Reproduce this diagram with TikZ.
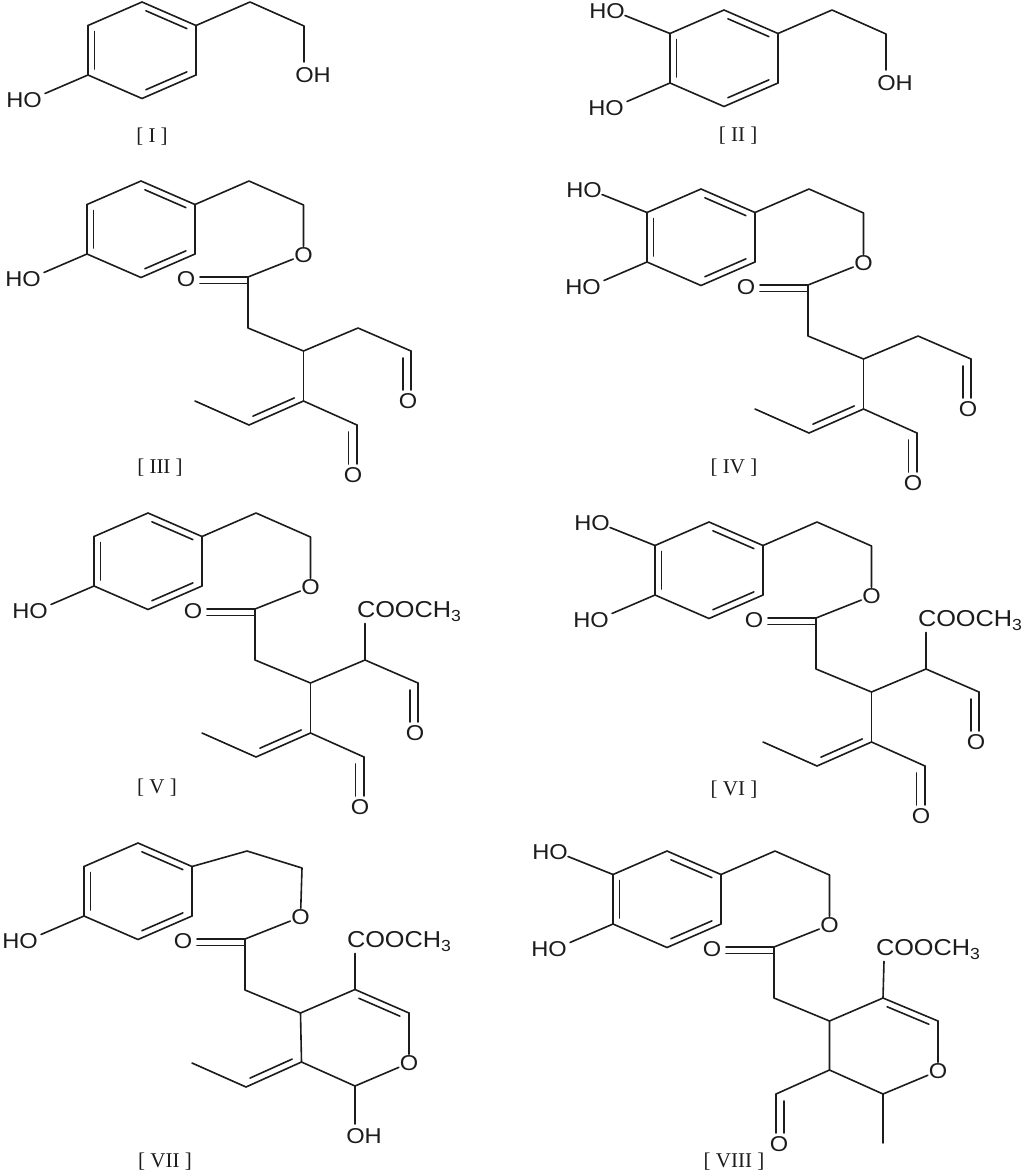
\documentclass[tikz,border=0pt]{standalone}
\usepackage{fontspec}
\usetikzlibrary{calc}
\setmainfont{Liberation Serif}
\newfontfamily\chemfont[FakeStretch=1.1]{Liberation Sans}
\definecolor{ink}{HTML}{1C1C1C}
\tikzset{
  bond/.style={draw=ink,line width=1.6pt,line cap=round,line join=round},
  atom/.style={text=ink,font=\chemfont\fontsize{21.5}{24}\selectfont,inner sep=0.8pt},
  caption/.style={text=ink,font=\fontsize{21}{24}\selectfont,inner sep=0pt},
}
% double bond: the second line lies to the right of the direction a -> b
\newcommand{\dblr}[2]{%
  \draw[bond] (#1)--(#2);
  \draw[bond] ($(#1)!.12!(#2)!6.5pt!-90:(#2)$)--($(#2)!.12!(#1)!6.5pt!90:(#1)$);}
\newcommand{\phenylring}{%
  \coordinate (r1) at (0,0);
  \coordinate (r2) at (54,23.5);
  \coordinate (r3) at (54,73);
  \coordinate (r4) at (0,96.5);
  \coordinate (r5) at (-54,73);
  \coordinate (r6) at (-54,23.5);
  \dblr{r1}{r2}
  \dblr{r3}{r4}
  \dblr{r5}{r6}
  \draw[bond] (r2)--(r3) (r4)--(r5) (r6)--(r1);}
\newcommand{\lowerHO}{%
  \node[atom] (hoB) at (-118,98) {HO};
  \coordinate (hoBe) at (-97,91.5);
  \draw[bond] (r5)--(hoBe);}
\newcommand{\upperHO}{%
  \node[atom] (hoT) at (-117,1.5) {HO};
  \coordinate (hoTe) at (-99,5.5);
  \draw[bond] (r6)--(hoTe);}
% free alcohol side chain
\newcommand{\alcohol}{%
  \coordinate (ch1) at (108,0);
  \coordinate (ch2) at (162,24);
  \coordinate (oh1) at (162,60);
  \node[atom] (ohA) at (171,73) {OH};
  \draw[bond] (r2)--(ch1)--(ch2)--(oh1);}
% ester side chain down to the branching carbon
\newcommand{\esterlink}[2]{%
  \coordinate (ch1) at #1;
  \coordinate (ch2) at #2;
  \node[atom] (oe) at (162.5,74) {O};
  \coordinate (ec) at (107,96);
  \node[atom] (oc) at (45,98) {O};
  \coordinate (oca) at (59,96);
  \coordinate (ocb) at (59,102.5);
  \coordinate (ecb) at (107,102.5);
  \coordinate (ch3) at (107,147);
  \coordinate (cb) at (162.5,170);
  \draw[bond] (r2)--(ch1)--(ch2)--(oe);
  \draw[bond] (oe)--(ec)--(ch3)--(cb);
  \draw[bond] (oca)--(ec) (ocb)--(ecb);}
% aldehyde on carbon #1: O node #2, second line offset #3, O shift #4
\newcommand{\cho}[4]{%
  \coordinate (#2m) at ($(#1)+(0,39)$);
  \coordinate (#2a) at ($(#1)+(#3,7)$);
  \coordinate (#2b) at ($(#1)+(#3,39)$);
  \node[atom] (#2) at ($(#1)+(#4,50)$) {O};
  \draw[bond] (#1)--(#2m) (#2a)--(#2b);}
% ethylidene on carbon cx
\newcommand{\ethylidene}{%
  \coordinate (vn) at (108,244);
  \coordinate (me) at (54,220);
  \dblr{cx}{vn}
  \draw[bond] (vn)--(me);}
\newcommand{\openaldehyde}{%
  \coordinate (cx) at (162.5,220);
  \draw[bond] (cb)--(cx);
  \ethylidene
  \coordinate (c2) at (216,244);
  \draw[bond] (cx)--(c2);
  \cho{c2}{oB}{-8.5}{-4}}
\newcommand{\estergroup}{%
  \node[atom,anchor=west,font=\chemfont\fontsize{23}{25}\selectfont] (coome) at (208,98.5) {COOCH\raisebox{-3.5pt}{\fontsize{16}{18}\selectfont 3}};
  \coordinate (coa) at (217,110.5);}
\begin{document}
\begin{tikzpicture}[x=1pt,y=-1pt]
\useasboundingbox (0,0) rectangle (1024,1176);
\fill[white] (0,0) rectangle (1024,1176);

% I
\begin{scope}[shift={(142,2)},name prefix=a-]
  \phenylring \lowerHO \alcohol
\end{scope}
\node[caption] (capI) at (152,137) {[ I ]};

% II
\begin{scope}[shift={(724,10)},name prefix=b-]
  \phenylring \lowerHO \upperHO \alcohol
\end{scope}
\node[caption] (capII) at (738,136) {[ II ]};

% III
\begin{scope}[shift={(141,181)},name prefix=c-]
  \phenylring \lowerHO
  \esterlink{(108,0)}{(162.5,24)}
  \coordinate (c1) at (217,147);
  \coordinate (c3) at (270,170);
  \draw[bond] (cb)--(c1)--(c3);
  \cho{c3}{oA}{-8}{-3}
  \openaldehyde
\end{scope}
\node[caption] (capIII) at (160,468) {[ III ]};

% IV
\begin{scope}[shift={(701,189)},name prefix=d-]
  \phenylring \lowerHO \upperHO
  \esterlink{(108,0)}{(162.5,24)}
  \coordinate (c1) at (217,147);
  \coordinate (c3) at (270,170);
  \draw[bond] (cb)--(c1)--(c3);
  \cho{c3}{oA}{-8}{-3}
  \openaldehyde
\end{scope}
\node[caption] (capIV) at (734,468) {[ IV ]};

% V
\begin{scope}[shift={(148,513)},name prefix=e-]
  \phenylring \lowerHO
  \esterlink{(108,0)}{(162.5,24)}
  \estergroup
  \coordinate (c1) at (217,147);
  \coordinate (c3) at (270,170);
  \draw[bond] (cb)--(c1)--(c3) (c1)--(coa);
  \cho{c3}{oA}{-8}{-3}
  \openaldehyde
\end{scope}
\node[caption] (capV) at (157,788) {[ V ]};

% VI
\begin{scope}[shift={(709,522)},name prefix=f-]
  \phenylring \lowerHO \upperHO
  \esterlink{(108,0)}{(162.5,24)}
  \estergroup
  \coordinate (c1) at (217,147);
  \coordinate (c3) at (270,170);
  \draw[bond] (cb)--(c1)--(c3) (c1)--(coa);
  \cho{c3}{oA}{-8}{-3}
  \openaldehyde
\end{scope}
\node[caption] (capVI) at (734,790) {[ VI ]};

% VII
\begin{scope}[shift={(138,843)},name prefix=g-]
  \phenylring \lowerHO
  \esterlink{(109,8)}{(164,25)}
  \estergroup
  \coordinate (c1) at (217,146.5);
  \coordinate (c3) at (271,170);
  \node[atom] (orng) at (271,220) {O};
  \coordinate (c4) at (217,243);
  \coordinate (oh1) at (217,281);
  \node[atom] (ohG) at (226,293) {OH};
  \coordinate (cx) at (163.5,219);
  \draw[bond] (cb)--(c1) (c1)--(coa);
  \dblr{c1}{c3}
  \draw[bond] (c3)--(orng)--(c4)--(cx)--(cb) (c4)--(oh1);
  \ethylidene
\end{scope}
\node[caption] (capVII) at (165,1162) {[ VII ]};

% VIII
\begin{scope}[shift={(667,851)},name prefix=h-]
  \phenylring \lowerHO \upperHO
  \esterlink{(108,0)}{(162.5,24)}
  \estergroup
  \coordinate (c1) at (216,147);
  \coordinate (c3) at (271,170);
  \node[atom] (orng) at (271,220) {O};
  \coordinate (c4) at (216,243);
  \coordinate (me2) at (216,292);
  \coordinate (cx) at (162.5,219);
  \coordinate (c5) at (109,243);
  \draw[bond] (cb)--(c1) (c1)--(coa);
  \dblr{c1}{c3}
  \draw[bond] (c3)--(orng)--(c4)--(cx)--(cb) (c4)--(me2) (cx)--(c5);
  \cho{c5}{oB}{8}{3}
\end{scope}
\node[caption] (capVIII) at (734,1162) {[ VIII ]};
\end{tikzpicture}
\end{document}
